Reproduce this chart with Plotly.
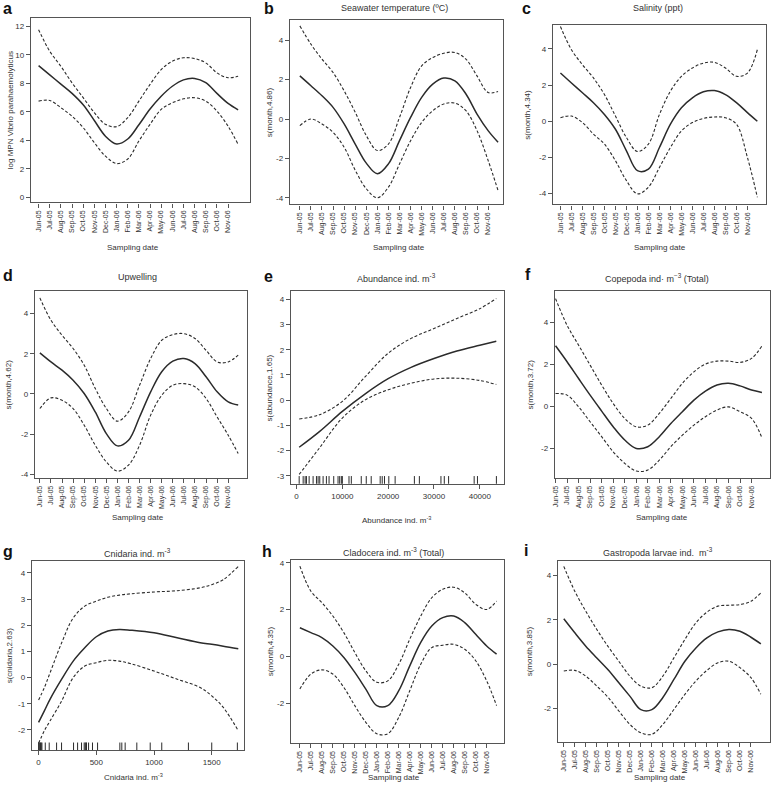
import plotly.graph_objects as go

W, H = 771, 790

MONTH_LABELS = ["Jun-05", "Jul-05", "Aug-05", "Sep-05", "Oct-05", "Nov-05", "Dec-05",
                "Jan-06", "Feb-06", "Mar-06", "Apr-06", "May-06", "Jun-06", "Jul-06",
                "Aug-06", "Sep-06", "Oct-06", "Nov-06"]
MONTH_X = [0, 1, 2, 3, 4, 5, 6, 7, 8, 9, 10, 11, 12, 13, 14, 15, 16, 17, 17.9]

# panel a
a_fit = [9.25, 8.6, 7.95, 7.3, 6.5, 5.4, 4.3, 3.75, 4.1, 5.1, 6.2, 7.1, 7.8, 8.25, 8.35, 8.05, 7.3, 6.6, 6.15]
a_up = [11.77, 10.26, 9.2, 8.04, 7.0, 5.95, 5.13, 4.97, 5.6, 6.76, 7.93, 8.97, 9.56, 9.8, 9.74, 9.44, 8.74, 8.4, 8.5]
a_lo = [6.76, 6.8, 6.3, 5.7, 4.9, 3.85, 2.9, 2.38, 2.7, 3.96, 5.13, 6.18, 6.64, 6.92, 7.0, 6.76, 6.06, 5.0, 3.73]
# panel b
b_fit = [2.19, 1.69, 1.18, 0.59, -0.25, -1.27, -2.24, -2.78, -2.28, -1.1, 0.08, 1.1, 1.77, 2.08, 1.94, 1.27, 0.25, -0.59, -1.18]
b_up = [4.73, 3.8, 3.04, 2.36, 1.43, 0.34, -0.84, -1.6, -1.27, 0.08, 1.6, 2.7, 3.12, 3.34, 3.38, 3.04, 2.19, 1.35, 1.4]
b_lo = [-0.34, 0.0, -0.25, -0.68, -1.43, -2.6, -3.54, -4.0, -3.46, -2.28, -1.1, -0.17, 0.42, 0.76, 0.81, 0.42, -0.59, -2.1, -3.63]
# panel c
c_fit = [2.67, 2.12, 1.58, 1.03, 0.38, -0.44, -1.63, -2.73, -2.64, -1.45, -0.16, 0.75, 1.3, 1.63, 1.7, 1.48, 1.03, 0.48, 0.0]
c_up = [5.24, 3.96, 3.13, 2.4, 1.48, 0.29, -0.9, -1.67, -1.26, 0.38, 1.67, 2.49, 2.95, 3.22, 3.26, 2.95, 2.49, 2.67, 3.96]
c_lo = [0.2, 0.29, -0.07, -0.71, -1.26, -2.18, -3.28, -4.01, -3.64, -2.55, -1.45, -0.53, -0.07, 0.16, 0.24, 0.2, -0.16, -2.0, -4.2]
# panel d
d_fit = [2.04, 1.59, 1.18, 0.68, 0.02, -0.9, -1.98, -2.59, -2.31, -1.15, 0.1, 1.1, 1.63, 1.76, 1.51, 0.85, 0.1, -0.4, -0.56]
d_up = [4.78, 3.67, 2.92, 2.26, 1.43, 0.27, -0.73, -1.36, -0.9, 0.43, 1.76, 2.67, 2.95, 3.0, 2.76, 2.17, 1.59, 1.59, 1.93]
d_lo = [-0.73, -0.2, -0.32, -0.73, -1.56, -2.56, -3.39, -3.85, -3.55, -2.56, -1.06, -0.07, 0.43, 0.51, 0.35, -0.23, -1.15, -2.06, -2.97]
# panel e
e_x = [580, 5000, 10000, 15000, 20000, 25000, 30000, 35000, 40000, 43600]
e_fit = [-1.87, -1.25, -0.45, 0.25, 0.85, 1.3, 1.65, 1.95, 2.18, 2.34]
e_up = [-0.75, -0.58, -0.05, 0.93, 1.86, 2.45, 2.84, 3.24, 3.63, 4.03]
e_lo = [-2.95, -1.9, -0.71, 0.01, 0.41, 0.67, 0.84, 0.87, 0.78, 0.62]
e_rug = [580, 1450, 1880, 2170, 2750, 3620, 4350, 4710, 5070, 5800, 6520, 7100, 8120, 9060,
         9420, 9780, 10000, 11450, 11960, 14130, 15220, 16300, 18260, 18700, 19200, 20140,
         21520, 25720, 26810, 31520, 32250, 33190, 38770, 39490, 43620]
# panel f
f_fit = [2.89, 2.13, 1.33, 0.54, -0.22, -0.97, -1.6, -2.0, -1.92, -1.44, -0.81, -0.25, 0.3, 0.73, 1.02, 1.1, 0.98, 0.78, 0.67]
f_up = [5.14, 3.87, 2.92, 1.97, 1.02, 0.14, -0.57, -0.97, -0.89, -0.33, 0.38, 1.1, 1.65, 2.02, 2.16, 2.16, 2.1, 2.29, 2.89]
f_lo = [0.62, 0.54, -0.02, -0.73, -1.44, -2.16, -2.71, -3.08, -3.03, -2.56, -1.92, -1.37, -0.89, -0.49, -0.17, -0.02, -0.25, -0.57, -1.49]
# panel g
g_x = [0, 50, 100, 200, 300, 400, 500, 600, 700, 800, 1000, 1200, 1400, 1500, 1600, 1730]
g_fit = [-1.71, -1.27, -0.82, -0.06, 0.63, 1.14, 1.56, 1.78, 1.84, 1.81, 1.71, 1.52, 1.33, 1.27, 1.2, 1.1]
g_up = [-0.86, -0.38, 0.19, 1.33, 2.28, 2.73, 2.92, 3.07, 3.15, 3.2, 3.27, 3.32, 3.43, 3.55, 3.74, 4.25]
g_lo = [-2.51, -2.03, -1.65, -0.89, 0.0, 0.44, 0.57, 0.66, 0.63, 0.53, 0.25, -0.06, -0.38, -0.7, -1.14, -2.03]
g_rug = [0, 6, 12, 17, 23, 29, 58, 92, 156, 199, 303, 338, 372, 395, 404, 410, 415, 433,
         467, 511, 704, 721, 750, 851, 967, 1067, 1298, 1500, 1722]
# panel h
h_fit = [1.23, 1.02, 0.81, 0.45, -0.04, -0.68, -1.39, -2.1, -2.1, -1.46, -0.4, 0.6, 1.3, 1.66, 1.73, 1.45, 0.95, 0.45, 0.1]
h_up = [3.86, 2.79, 2.3, 1.73, 1.02, 0.17, -0.61, -1.1, -1.04, -0.33, 0.74, 1.73, 2.51, 2.87, 2.96, 2.72, 2.23, 2.01, 2.37]
h_lo = [-1.39, -0.75, -0.57, -0.75, -1.32, -2.1, -2.81, -3.3, -3.3, -2.6, -1.46, -0.33, 0.38, 0.48, 0.52, 0.31, -0.18, -1.04, -2.1]
# panel i
i_fit = [2.04, 1.41, 0.81, 0.28, -0.24, -0.84, -1.44, -2.05, -2.05, -1.5, -0.69, 0.13, 0.73, 1.18, 1.45, 1.56, 1.48, 1.21, 0.91]
i_up = [4.4, 3.28, 2.38, 1.56, 0.81, 0.13, -0.54, -0.99, -1.06, -0.54, 0.28, 1.11, 1.86, 2.34, 2.61, 2.65, 2.68, 2.83, 3.21]
i_lo = [-0.31, -0.28, -0.54, -0.99, -1.48, -2.11, -2.71, -3.09, -3.16, -2.71, -2.04, -1.36, -0.76, -0.28, 0.06, 0.13, -0.16, -0.61, -1.36]

TITLES = ["", "Seawater temperature (ºC)", "Salinity (ppt)", "Upwelling",
          "Abundance ind. m<sup>-3</sup>", "Copepoda ind· m<sup>−3</sup> (Total)",
          "Cnidaria ind. m<sup>-3</sup>", "Cladocera ind. m<sup>-3</sup> (Total)",
          "Gastropoda larvae ind.  m<sup>-3</sup>"]
YTITLES = ["log MPN Vibrio parahaemolyticus", "s(month,4.86)", "s(month,4.34)", "s(month,4.62)",
           "s(abundance,1.65)", "s(month,3.72)", "s(cnidaria,2.63)", "s(month,4.35)", "s(month,3.85)"]
XTITLES = ["Sampling date", "Sampling date", "Sampling date", "Sampling date",
           "Abundance ind. m<sup>-3</sup>", "Sampling date", "Cnidaria ind. m<sup>-3</sup>",
           "Sampling date", "Sampling date"]
LETTERS = ["a", "b", "c", "d", "e", "f", "g", "h", "i"]

panels = [
    dict(x=MONTH_X, fit=a_fit, up=a_up, lo=a_lo, box=(28, 248, 17, 202), xr=[-0.69, 18.97], yr=[-0.35, 12.59],
         yt=[0, 2, 4, 6, 8, 10, 12], kind="m", title_xy=(138, 8), yt_x=7, xt_y=247, xt_x=131, let=(5, 8)),
    dict(x=MONTH_X, fit=b_fit, up=b_up, lo=b_lo, box=(288, 502, 19, 204), xr=[-0.9, 18.35], yr=[-4.34, 5.03],
         yt=[-4, -2, 0, 2, 4], kind="m", title_xy=(393, 7), yt_x=267, xt_y=247, xt_x=398, let=(267, 8)),
    dict(x=MONTH_X, fit=c_fit, up=c_up, lo=c_lo, box=(552, 766, 24, 204), xr=[-0.69, 18.69], yr=[-4.6, 5.33],
         yt=[-4, -2, 0, 2, 4], kind="m", title_xy=(658, 7), yt_x=527, xt_y=247, xt_x=660, let=(526, 8)),
    dict(x=MONTH_X, fit=d_fit, up=d_up, lo=d_lo, box=(32, 245, 291, 478), xr=[-0.45, 18.7], yr=[-4.18, 5.11],
         yt=[-4, -2, 0, 2, 4], kind="m", title_xy=(135, 277), yt_x=6, xt_y=518, xt_x=136, let=(5, 275)),
    dict(x=e_x, fit=e_fit, up=e_up, lo=e_lo, box=(289, 503, 291, 484), xr=[-1232, 45290], yr=[-3.32, 4.32],
         yt=[-3, -2, -1, 0, 1, 2, 3, 4], kind="e", title_xy=(395, 278), yt_x=268, xt_y=520, xt_x=395,
         let=(267, 276), rug=e_rug, xticks=[0, 10000, 20000, 30000, 40000]),
    dict(x=MONTH_X, fit=f_fit, up=f_up, lo=f_lo, box=(554, 770, 291, 478), xr=[-0.06, 18.6], yr=[-3.4, 5.49],
         yt=[-2, 0, 2, 4], kind="m", title_xy=(657, 278), yt_x=530, xt_y=518, xt_x=662, let=(527, 274)),
    dict(x=g_x, fit=g_fit, up=g_up, lo=g_lo, box=(29, 242, 561, 751), xr=[-58, 1780], yr=[-2.77, 4.47],
         yt=[-2, -1, 0, 1, 2, 3, 4], kind="g", title_xy=(135, 553), yt_x=6, xt_y=778, xt_x=131,
         let=(5, 552), rug=g_rug, xticks=[0, 500, 1000, 1500]),
    dict(x=MONTH_X, fit=h_fit, up=h_up, lo=h_lo, box=(289, 503, 560, 744), xr=[-0.82, 18.58], yr=[-3.7, 4.14],
         yt=[-2, 0, 2, 4], kind="m", title_xy=(392, 552), yt_x=268, xt_y=778, xt_x=393, let=(265, 552)),
    dict(x=MONTH_X, fit=i_fit, up=i_up, lo=i_lo, box=(557, 770, 561, 743), xr=[-0.54, 18.73], yr=[-3.51, 4.66],
         yt=[-2, 0, 2, 4], kind="m", title_xy=(658, 552), yt_x=528, xt_y=778, xt_x=660, let=(525, 551)),
]

FONT = "Liberation Sans, Arial, Helvetica, sans-serif"
LINE_C = "#2b2b2b"
AX_C = "#555555"
TXT_C = "#333333"

fig = go.Figure()
layout = dict(width=W, height=H, margin=dict(l=0, r=0, t=0, b=0), paper_bgcolor="white",
              plot_bgcolor="white", showlegend=False, font=dict(family=FONT, color=TXT_C))
annotations = []
shapes = []


def px_x(p):
    return p / W


def px_y(p):
    return 1 - p / H


for k, p in enumerate(panels, start=1):
    xa = "x" if k == 1 else f"x{k}"
    ya = "y" if k == 1 else f"y{k}"
    for series, dash, wd in ((p["up"], "3px,2px", 1.1), (p["lo"], "3px,2px", 1.1), (p["fit"], "solid", 1.5)):
        fig.add_trace(go.Scatter(x=p["x"], y=series, mode="lines", xaxis=xa, yaxis=ya,
                                 line=dict(color=LINE_C, width=wd, dash=dash, shape="spline", smoothing=1.0),
                                 hoverinfo="skip"))
    l, r, t, b = p["box"]
    xkey = "xaxis" if k == 1 else f"xaxis{k}"
    ykey = "yaxis" if k == 1 else f"yaxis{k}"
    common = dict(showline=True, mirror=True, linecolor=AX_C, linewidth=1.3, ticks="outside", ticklen=4,
                  tickcolor=AX_C, tickwidth=1, showgrid=False, zeroline=False,
                  tickfont=dict(family=FONT, size=8, color=TXT_C))
    if p["kind"] == "m":
        xcfg = dict(common, tickvals=list(range(18)), ticktext=MONTH_LABELS, tickangle=-90,
                    tickfont=dict(family=FONT, size=7, color=TXT_C))
    else:
        xcfg = dict(common, tickvals=p["xticks"], ticktext=[str(v) for v in p["xticks"]], tickangle=0)
    xcfg.update(domain=[px_x(l), px_x(r)], range=p["xr"], anchor=ya)
    ycfg = dict(common, tickvals=p["yt"], ticktext=[str(v) for v in p["yt"]], tickangle=0,
                domain=[px_y(b), px_y(t)], range=p["yr"], anchor=xa)
    layout[xkey] = xcfg
    layout[ykey] = ycfg

    if "rug" in p:
        for v in p["rug"]:
            shapes.append(dict(type="line", xref=xa, yref=f"{ya} domain", x0=v, x1=v, y0=0, y1=0.04,
                               line=dict(color=LINE_C, width=1)))

    if TITLES[k - 1]:
        annotations.append(dict(text=TITLES[k - 1], x=px_x(p["title_xy"][0]), y=px_y(p["title_xy"][1]),
                                xref="paper", yref="paper", showarrow=False, xanchor="center", yanchor="middle",
                                font=dict(size=9, color=TXT_C, family=FONT)))
    annotations.append(dict(text=YTITLES[k - 1], x=px_x(p["yt_x"]), y=px_y((t + b) / 2),
                            xref="paper", yref="paper", showarrow=False, textangle=-90,
                            xanchor="center", yanchor="middle", font=dict(size=8, color=TXT_C, family=FONT)))
    annotations.append(dict(text=XTITLES[k - 1], x=px_x(p["xt_x"]), y=px_y(p["xt_y"]),
                            xref="paper", yref="paper", showarrow=False, xanchor="center", yanchor="middle",
                            font=dict(size=8, color=TXT_C, family=FONT)))
    annotations.append(dict(text=f"<b>{LETTERS[k - 1]}</b>", x=px_x(p["let"][0]), y=px_y(p["let"][1]),
                            xref="paper", yref="paper", showarrow=False, xanchor="center", yanchor="middle",
                            font=dict(size=16, color="#111111", family=FONT)))

layout["annotations"] = annotations
layout["shapes"] = shapes
fig.update_layout(**layout)
fig.write_html("out.html", config={"displayModeBar": False},
               post_script="document.body.style.margin='0px';document.body.style.overflow='hidden';")
